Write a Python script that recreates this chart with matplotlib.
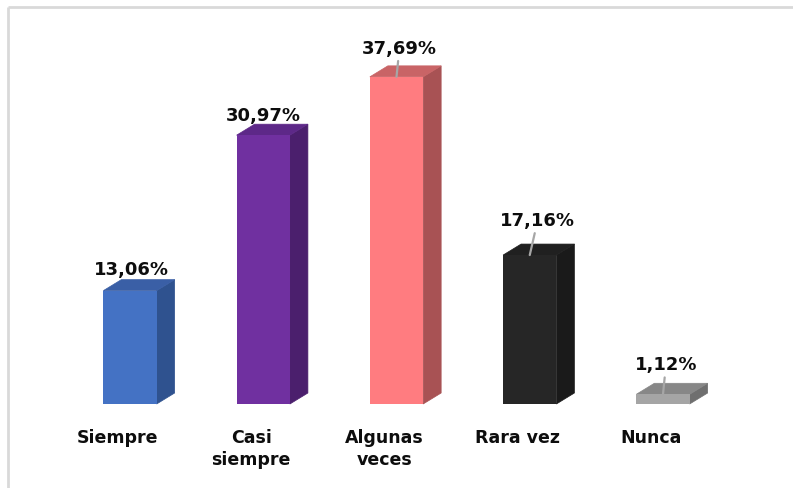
import numpy as np
import matplotlib.pyplot as plt
from matplotlib.patches import Polygon
from matplotlib.lines import Line2D

# survey answers (percent of respondents)
categories = ['Siempre', 'Casi\nsiempre', 'Algunas\nveces', 'Rara vez', 'Nunca']
percent = [13.06, 30.97, 37.69, 17.16, 1.12]
labels = ['13,06%', '30,97%', '37,69%', '17,16%', '1,12%']

front_colors = ['#4472C4', '#7030A0', '#FF7C80', '#262626', '#A5A5A5']
side_colors = ['#2F528F', '#4B1F6D', '#A85254', '#1A1A1A', '#6F6F6F']
top_colors = ['#3A5FA6', '#5D2888', '#C96466', '#202020', '#878787']

# label offsets (pixels from the front top centre) and which get a leader line
label_off = [(1, 22), (0, 20), (3, 29), (8, 35), (3, 30)]
leader = [False, False, True, True, True]

W, H, DPI = 793, 489, 100
fig = plt.figure(figsize=(W / DPI, H / DPI), dpi=DPI)
ax = fig.add_axes([0, 0, 1, 1])

# axis scaling: 133.25 px per category, 8.68 px per percent, baseline at y=405
px_x, px_y = 133.25, 8.68
x = np.arange(len(categories))
ax.set_xlim(-130 / px_x, 4 + (W - 663) / px_x)
ax.set_ylim(-(H - 405) / px_y, 405 / px_y)
ax.axis('off')

width = 0.40
dx, dy = 18 / px_x, 11 / px_y   # 3d depth

bars = ax.bar(x, percent, width=width, color=front_colors, zorder=3)
for b, sc, tc in zip(bars, side_colors, top_colors):
    x0, x1 = b.get_x(), b.get_x() + b.get_width()
    h = b.get_height()
    side = Polygon([(x1, 0), (x1 + dx, dy), (x1 + dx, h + dy), (x1, h)],
                   closed=True, facecolor=sc, edgecolor=sc, lw=0.5, zorder=2)
    top = Polygon([(x0, h), (x0 + dx, h + dy), (x1 + dx, h + dy), (x1, h)],
                  closed=True, facecolor=tc, edgecolor=tc, lw=0.5, zorder=2)
    ax.add_patch(side)
    ax.add_patch(top)

for xi, h, lab, off, ld in zip(x, percent, labels, label_off, leader):
    arrow = None
    if ld:
        arrow = dict(arrowstyle='-', color='#A6A6A6', lw=1.6, shrinkA=1, shrinkB=0)
    ax.annotate(lab, xy=(xi, h), xytext=off, textcoords='offset pixels',
                ha='center', va='center', fontsize=13, fontweight='bold',
                color='#0D0D0D', arrowprops=arrow, zorder=5)

for xi, cat in zip(x, categories):
    ax.annotate(cat, xy=(xi, 0), xytext=(-12, -24), textcoords='offset pixels',
                ha='center', va='top', fontsize=12.5, fontweight='bold',
                color='#0D0D0D', linespacing=1.3)

# light frame on top and left
fx, fy = 8 / W, 1 - 8 / H
fig.add_artist(Line2D([fx, 1], [fy, fy], color='#D9D9D9', lw=2,
                      solid_capstyle='butt', transform=fig.transFigure))
fig.add_artist(Line2D([fx, fx], [0, fy], color='#D9D9D9', lw=2,
                      solid_capstyle='butt', transform=fig.transFigure))

fig.savefig('out.png', dpi=DPI)
